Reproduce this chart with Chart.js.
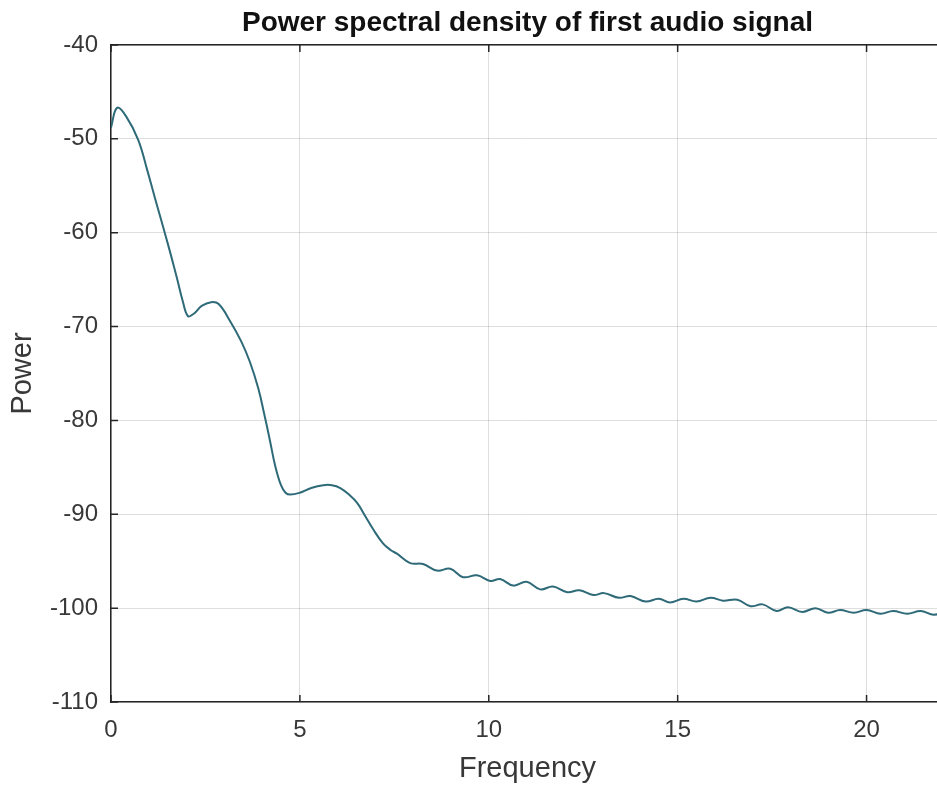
<!DOCTYPE html>
<html>
<head>
<meta charset="utf-8">
<title>Power spectral density</title>
<script src="https://cdn.jsdelivr.net/npm/chart.js@4/dist/chart.umd.min.js"></script>
<style>
  html, body { margin: 0; padding: 0; background: #fff; overflow: hidden; }
  #wrap { width: 944px; height: 787px; }
</style>
</head>
<body>
<div id="wrap"><canvas id="psd" width="944" height="787"></canvas></div>
<script>
// datos
const freq = [0.00, 0.16, 0.40, 0.72, 0.95, 1.17, 1.43, 1.60, 1.75, 1.90, 2.04, 2.20, 2.40, 2.65, 2.85,
  3.15, 3.45, 3.68, 3.90, 4.05, 4.20, 4.35, 4.50, 4.62, 4.75, 5.00, 5.30, 5.62, 5.85, 6.07, 6.30, 6.52, 6.70,
  6.94, 7.20, 7.40, 7.57, 7.92, 8.26, 8.63, 8.98, 9.32, 9.69, 10.04, 10.30, 10.65, 11.00, 11.36, 11.70,
  12.08, 12.40, 12.77, 13.05, 13.45, 13.75, 14.15, 14.50, 14.80, 15.15, 15.50, 15.87, 16.20, 16.58,
  16.93, 17.25, 17.62, 17.92, 18.30, 18.65, 18.98, 19.30, 19.66, 20.00, 20.37, 20.70, 21.08, 21.43,
  21.78, 22.05];
const power = [-48.8, -46.7, -47.6, -50.1, -53.2, -56.4, -60.1, -62.6, -64.9, -67.3, -68.9, -68.6, -67.8, -67.4, -67.6,
  -69.4, -71.6, -73.8, -76.6, -79.2, -82.0, -84.9, -86.9, -87.7, -87.9, -87.7, -87.2, -86.9, -86.9, -87.2, -87.9, -88.8, -90.0,
  -91.6, -93.1, -93.8, -94.2, -95.2, -95.3, -96.0, -95.8, -96.7, -96.5, -97.1, -96.9, -97.6, -97.2, -98.0, -97.7,
  -98.3, -98.1, -98.6, -98.4, -98.9, -98.7, -99.3, -99.0, -99.4, -99.0, -99.3, -98.9, -99.2, -99.1,
  -99.8, -99.6, -100.3, -99.9, -100.4, -100.0, -100.5, -100.2, -100.5, -100.2, -100.6, -100.3, -100.6, -100.3,
  -100.7, -100.4];
const xTicks = [0, 5, 10, 15, 20];
const yTicks = [-110, -100, -90, -80, -70, -60, -50, -40];

const FONT = "'Liberation Sans', Arial, Helvetica, sans-serif";
const AXIS_COLOR = '#262626';
const GRID_COLOR = 'rgba(0,0,0,0.13)';

// marcas de tick hacia adentro, estilo MATLAB
const innerTicks = {
    id: 'innerTicks',
    afterDraw(chart) {
        const { ctx, chartArea: a, scales } = chart;
        ctx.save();
        ctx.strokeStyle = AXIS_COLOR;
        ctx.lineWidth = 1.5;
        ctx.beginPath();
        scales.x.ticks.forEach(t => {
            const px = scales.x.getPixelForValue(t.value);
            ctx.moveTo(px, a.bottom); ctx.lineTo(px, a.bottom - 7);
            ctx.moveTo(px, a.top); ctx.lineTo(px, a.top + 7);
        });
        scales.y.ticks.forEach(t => {
            const py = scales.y.getPixelForValue(t.value);
            ctx.moveTo(a.left, py); ctx.lineTo(a.left + 7, py);
        });
        ctx.stroke();
        ctx.restore();
    }
};

new Chart(document.getElementById('psd'), {
    type: 'line',
    data: {
        datasets: [{
            label: 'PSD',
            data: freq.map((f, i) => ({ x: f, y: power[i] })),
            borderColor: '#2e6a78',
            borderWidth: 2,
            pointRadius: 0,
            tension: 0.4,
            fill: false
        }]
    },
    options: {
        responsive: false,
        animation: false,
        plugins: { legend: { display: false }, tooltip: { enabled: false }, title: { display: false } },
        layout: { padding: 0 },
        scales: {
            x: {
                type: 'linear', position: 'bottom', min: 0, max: 22.05,
                afterBuildTicks: s => { s.ticks = xTicks.map(v => ({ value: v })); },
                afterFit: s => { s.height = 85; },
                grid: { color: GRID_COLOR, drawTicks: false },
                border: { color: AXIS_COLOR, width: 1.5 },
                ticks: { color: '#383838', padding: 14, maxRotation: 0, font: { family: FONT, size: 24 } },
                title: { display: true, text: 'Frequency', color: '#383838', padding: { top: 0, bottom: 1 }, font: { family: FONT, size: 29 } }
            },
            top: {
                type: 'linear', position: 'top', min: 0, max: 22.05,
                afterFit: s => { s.height = 45; },
                grid: { drawOnChartArea: false, drawTicks: false },
                border: { color: AXIS_COLOR, width: 1.5 },
                ticks: { display: false },
                title: { display: true, text: 'Power spectral density of first audio signal', color: '#111',
                         padding: { top: 6, bottom: 0 }, font: { family: FONT, size: 28, weight: 'bold' } }
            },
            y: {
                type: 'linear', position: 'left', min: -110, max: -40,
                afterBuildTicks: s => { s.ticks = yTicks.map(v => ({ value: v })); },
                afterFit: s => { s.width = 111; },
                grid: { color: GRID_COLOR, drawTicks: false },
                border: { color: AXIS_COLOR, width: 1.5 },
                ticks: { color: '#383838', padding: 13, font: { family: FONT, size: 24 } },
                title: { display: true, text: 'Power', color: '#383838', padding: { top: 6, bottom: 0 }, font: { family: FONT, size: 29 } }
            }
        }
    },
    plugins: [innerTicks]
});
</script>
</body>
</html>
